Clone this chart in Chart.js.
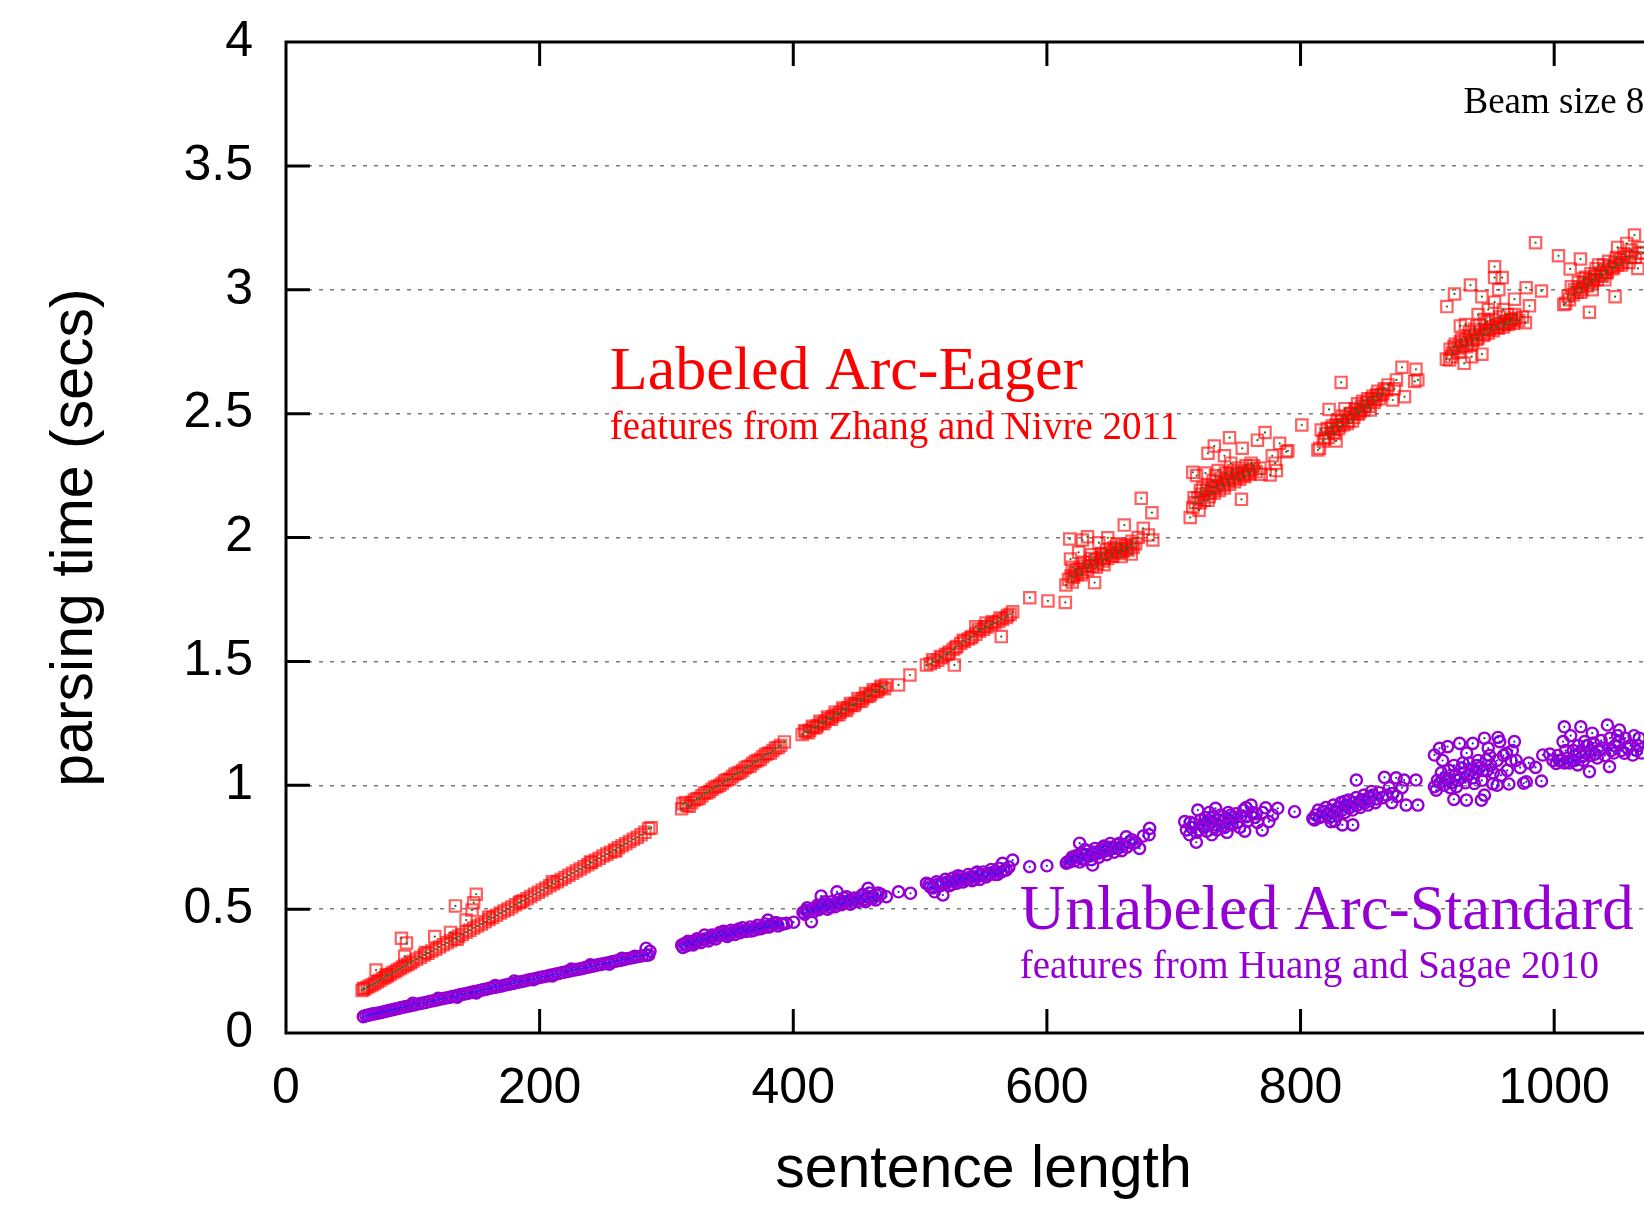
<!DOCTYPE html>
<html><head><meta charset="utf-8">
<script src="https://cdn.jsdelivr.net/npm/chart.js@4.4.1/dist/chart.umd.min.js"></script>
<style>
html,body{margin:0;padding:0;overflow:hidden;background:#fff;width:1644px;height:1206px}
#wrap{position:absolute;left:0;top:0;width:1720px;height:1206px}
</style>
</head><body><div id="wrap"><canvas id="c" width="1720" height="1206"></canvas></div>
<script>
// ---------- DATA: [sentence length, parsing time (secs)] ----------
const eagerBand1 = [[60,0.172],[61,0.18],[62,0.178],[64,0.185],[66,0.19],[68,0.195],[70,0.2],[71,0.254],[72,0.207],[74,0.212],[76,0.22],[78,0.224],[79,0.234],[80,0.23],[82,0.236],[84,0.243],[86,0.248],[88,0.254],[90,0.26],[91,0.382],[92,0.266],[93.6,0.31],[94,0.272],[95,0.363],[96,0.277],[98,0.283],[100,0.289],[103,0.298],[106,0.306],[109,0.315],[112,0.322],[115,0.331],[117.3,0.389],[118,0.338],[121,0.347],[124,0.356],[127,0.364],[129.7,0.406],[130,0.372],[133,0.381],[133.6,0.513],[135,0.378],[136,0.39],[139,0.398],[142,0.407],[142,0.456],[145,0.415],[146.7,0.496],[148,0.526],[148,0.424],[150,0.56],[151,0.432],[154,0.44],[157,0.449],[160,0.458],[163,0.466],[166,0.475],[169,0.484],[172,0.492],[175,0.5],[178,0.509],[181,0.518],[184,0.526],[185,0.53],[187,0.534],[190,0.542],[193,0.551],[196,0.56],[199,0.568],[202,0.577],[205,0.585],[208,0.594],[211,0.602],[214,0.611],[217,0.62],[220,0.628],[223,0.637],[226,0.645],[229,0.654],[232,0.662],[235,0.671],[238,0.679],[240,0.69],[241,0.688],[244,0.697],[247,0.705],[250,0.714],[253,0.722],[256,0.73],[259,0.739],[262,0.748],[265,0.756],[268,0.764],[271,0.773],[274,0.782],[277,0.79],[280,0.8],[283,0.81],[286,0.825],[288,0.828],[110,0.325],[160,0.468],[210,0.61],[260,0.735]];
const eagerBand2 = [[312,0.905],[313,0.925],[316,0.918],[320,0.93],[324,0.945],[328,0.958],[332,0.97],[336,0.984],[340,0.995],[344,1.008],[348,1.022],[352,1.035],[356,1.048],[360,1.06],[364,1.075],[368,1.088],[372,1.1],[376,1.115],[380,1.128],[384,1.14],[388,1.152],[393,1.175],[315,0.93],[318,0.915],[322,0.94],[326,0.948],[330,0.968],[334,0.975],[338,0.992],[342,1.0],[346,1.018],[350,1.025],[354,1.044],[358,1.052],[362,1.07],[366,1.078],[370,1.096],[374,1.105],[378,1.124],[382,1.13],[386,1.15],[390,1.16]];
const eagerBand3 = [[407,1.205],[410,1.215],[413,1.222],[416,1.232],[419,1.24],[422,1.25],[425,1.258],[428,1.268],[431,1.277],[434,1.286],[437,1.295],[440,1.305],[443,1.313],[446,1.322],[449,1.33],[452,1.34],[455,1.35],[458,1.358],[461,1.367],[464,1.377],[467,1.385],[470,1.395],[473,1.405],[483,1.405],[492,1.445],[409,1.22],[412,1.212],[415,1.238],[418,1.232],[421,1.258],[424,1.248],[427,1.275],[430,1.266],[433,1.295],[436,1.285],[439,1.312],[442,1.302],[445,1.33],[448,1.322],[451,1.35],[454,1.34],[457,1.37],[460,1.36],[463,1.385],[466,1.378],[469,1.4],[472,1.39]];
const eagerBand4 = [[505,1.485],[508,1.49],[511,1.497],[514,1.505],[517,1.515],[520,1.528],[523,1.538],[526,1.548],[527,1.485],[529,1.56],[532,1.572],[535,1.58],[538,1.59],[541,1.6],[544,1.61],[544,1.64],[547,1.622],[550,1.63],[552,1.655],[553,1.64],[556,1.648],[559,1.655],[562,1.662],[564,1.6],[565,1.67],[568,1.677],[571,1.69],[573,1.7],[510,1.507],[516,1.52],[522,1.53],[528,1.555],[534,1.585],[540,1.595],[546,1.63],[551,1.64],[557,1.66],[563,1.675],[569,1.685],[586.5,1.757],[600.8,1.744],[614.5,1.738]];
const eagerCloud5 = [[615,1.808],[617,1.83],[619,1.845],[620,1.82],[622,1.86],[624,1.85],[626,1.875],[628,1.86],[630,1.885],[632,1.87],[634,1.9],[636,1.885],[637.6,1.818],[638,1.91],[640,1.895],[642,1.92],[644,1.905],[646,1.93],[648,1.915],[650,1.94],[652,1.925],[654,1.95],[656,1.935],[658,1.955],[660,1.945],[662,1.965],[664,1.95],[666,1.97],[668,1.96],[670,1.975],[618,1.994],[632,2.003],[648,1.999],[641,1.979],[618.6,1.913],[666.5,1.933],[658.6,1.923],[674.4,2.158],[682.8,2.1],[661,2.05],[676,2.037],[683.5,1.99],[680,2.01],[672,2.0],[625,1.94],[628,1.99],[621,1.84],[623,1.87],[627,1.85],[629,1.9],[633,1.885],[635,1.915],[639,1.88],[643,1.935],[645,1.915],[647,1.95],[651,1.925],[653,1.96],[657,1.94],[659,1.97],[663,1.955],[667,1.985],[620,1.88],[635,1.93],[655,1.975],[645,1.89]];
const eagerCloud6 = [[713,2.081],[715,2.12],[717,2.14],[719,2.16],[720,2.11],[722,2.175],[724,2.15],[726,2.19],[728,2.165],[730,2.2],[732,2.18],[734,2.21],[736,2.19],[738,2.22],[740,2.2],[742,2.235],[744,2.215],[746,2.245],[748,2.225],[750,2.255],[752,2.235],[754,2.262],[756,2.245],[758,2.27],[760,2.255],[762,2.275],[765,2.265],[768,2.28],[732,2.369],[744,2.403],[727,2.34],[754,2.36],[766,2.393],[772,2.424],[783.5,2.38],[788.7,2.346],[777.7,2.33],[780,2.3],[781,2.27],[715,2.263],[753.4,2.154],[769,2.255],[776,2.252],[761,2.3],[718,2.25],[735,2.27],[745,2.3],[740,2.33],[725,2.26],[790,2.35],[716,2.16],[721,2.19],[723,2.2],[727,2.21],[729,2.18],[731,2.23],[733,2.2],[737,2.24],[739,2.21],[741,2.26],[743,2.23],[747,2.27],[749,2.24],[751,2.28],[755,2.25],[757,2.29],[759,2.26],[763,2.29],[733,2.25],[745,2.26],[721,2.14],[727,2.15],[801,2.454]];
const eagerCloud7 = [[813.7,2.353],[815,2.36],[816.3,2.434],[818,2.39],[820,2.42],[822,2.405],[824,2.44],[826,2.425],[828,2.39],[828,2.455],[830,2.44],[832,2.47],[834,2.455],[836,2.485],[838,2.47],[840,2.5],[842,2.485],[844,2.515],[846,2.5],[848,2.53],[850,2.515],[852,2.545],[854,2.53],[856,2.56],[858,2.545],[860,2.575],[862,2.56],[865,2.58],[832,2.626],[822.5,2.517],[880,2.687],[891,2.679],[892.5,2.636],[890,2.63],[875.6,2.636],[882,2.568],[872.7,2.555],[869,2.616],[868,2.595],[874,2.6],[845,2.54],[835,2.52],[819,2.4],[821,2.44],[825,2.45],[827,2.42],[829,2.47],[831,2.45],[833,2.49],[837,2.46],[839,2.5],[841,2.47],[843,2.52],[847,2.51],[849,2.55],[851,2.53],[853,2.56],[857,2.57],[859,2.555],[861,2.59],[863,2.575],[866,2.6],[845,2.5],[855,2.515]];
const eagerCloud8 = [[915,2.72],[917.5,2.716],[918,2.76],[920,2.745],[922,2.78],[924,2.765],[926,2.79],[928,2.775],[929,2.703],[930,2.8],[932,2.785],[934,2.81],[936,2.795],[938,2.82],[940,2.805],[942,2.83],[943,2.74],[944,2.815],[946,2.84],[948,2.825],[950,2.85],[952,2.835],[954,2.86],[956,2.845],[958,2.865],[960,2.85],[962,2.87],[964,2.86],[966,2.88],[968,2.865],[970,2.885],[972,2.875],[975,2.89],[977.3,2.867],[915.4,2.932],[921.4,2.983],[934,3.019],[953,3.093],[953,3.049],[959,3.049],[943,2.972],[953,2.95],[956.3,3.0],[968.7,2.962],[977.9,3.008],[990,2.995],[980.5,2.935],[926,2.854],[966,2.88],[940,2.9],[948,2.92],[919,2.73],[921,2.77],[925,2.75],[927,2.8],[931,2.77],[933,2.83],[935,2.78],[937,2.84],[939,2.8],[941,2.86],[945,2.82],[947,2.87],[949,2.84],[951,2.88],[955,2.85],[957,2.89],[961,2.86],[963,2.9],[965,2.87],[969,2.9],[930,2.86],[945,2.88],[960,2.92],[935,2.73]];
const eagerCloud9 = [[985.3,3.19],[1003.4,3.137],[1012.6,3.084],[1020.7,3.124],[1007.6,2.94],[1009,2.945],[1012,2.96],[1015,2.98],[1013.5,3.012],[1018,2.99],[1020,3.01],[1022,3.0],[1024,3.03],[1026,3.015],[1027.8,2.909],[1028,3.04],[1030,3.03],[1032,3.055],[1034,3.04],[1036,3.07],[1038,3.055],[1040,3.08],[1042,3.07],[1044,3.095],[1046,3.085],[1048,2.972],[1048,3.11],[1050,3.171],[1050,3.1],[1052,3.12],[1054,3.11],[1056.8,3.133],[1057.3,3.187],[1060,3.13],[1063.3,3.221],[1066,3.086],[1067,3.147],[1070,3.15],[1025,3.05],[1035,3.1],[1011,2.975],[1016,3.0],[1019,3.03],[1021,2.99],[1023,3.045],[1027,3.02],[1029,3.065],[1031,3.04],[1033,3.085],[1037,3.06],[1039,3.1],[1041,3.07],[1043,3.115],[1047,3.09],[1049,3.13],[1053,3.1],[1055,3.145],[1059,3.11],[1061,3.16],[1064,3.13],[1068,3.17],[1040,3.04],[1030,3.0]];

const standardBand1 = [[61,0.066],[63,0.07],[65,0.072],[67,0.075],[69,0.077],[71,0.079],[73,0.081],[75,0.083],[77,0.086],[79,0.088],[81,0.091],[83,0.093],[85,0.095],[87,0.098],[89,0.1],[91,0.103],[93,0.105],[95,0.107],[98,0.11],[101,0.113],[104,0.117],[107,0.12],[110,0.123],[113,0.127],[116,0.13],[119,0.133],[122,0.137],[125,0.14],[128,0.143],[131,0.147],[134,0.15],[137,0.154],[140,0.157],[143,0.16],[146,0.164],[149,0.167],[152,0.17],[155,0.174],[158,0.177],[161,0.181],[164,0.184],[167,0.187],[170,0.19],[173,0.194],[176,0.197],[179,0.2],[182,0.204],[185,0.207],[188,0.21],[191,0.214],[194,0.217],[197,0.22],[200,0.224],[203,0.227],[206,0.23],[209,0.234],[212,0.237],[215,0.24],[218,0.244],[221,0.247],[224,0.25],[227,0.254],[230,0.257],[233,0.26],[236,0.264],[239,0.267],[242,0.27],[245,0.274],[248,0.277],[251,0.28],[254,0.283],[257,0.287],[260,0.29],[263,0.293],[266,0.296],[269,0.3],[272,0.303],[275,0.306],[278,0.309],[281,0.312],[284,0.314],[286,0.315],[284,0.342],[287,0.33],[120,0.14],[150,0.162],[180,0.21],[210,0.23],[240,0.275],[265,0.302],[100,0.12],[135,0.145],[165,0.192],[195,0.215],[225,0.258],[255,0.278],[275,0.31]];
const standardBand2 = [[312,0.355],[314,0.36],[316,0.352],[318,0.365],[320,0.36],[322,0.37],[325,0.372],[328,0.378],[331,0.38],[334,0.385],[337,0.388],[340,0.393],[343,0.395],[346,0.4],[349,0.398],[352,0.406],[355,0.41],[358,0.405],[361,0.414],[364,0.418],[367,0.412],[370,0.425],[373,0.42],[376,0.43],[379,0.428],[380,0.456],[382,0.435],[385,0.44],[388,0.432],[391,0.44],[392,0.44],[394.6,0.443],[400.3,0.447],[330,0.395],[345,0.41],[360,0.425],[372,0.435],[385,0.445],[313,0.345],[317,0.37],[321,0.355],[324,0.38],[327,0.365],[333,0.372],[336,0.395],[339,0.38],[342,0.405],[348,0.39],[351,0.415],[354,0.398],[357,0.42],[363,0.41],[366,0.428],[369,0.415],[375,0.422],[378,0.44],[381,0.428],[387,0.445]];
const standardBand3 = [[407.7,0.487],[410,0.495],[412,0.49],[414.3,0.449],[415,0.5],[418,0.505],[420,0.498],[422,0.553],[423,0.51],[426,0.515],[429,0.508],[432,0.52],[434.5,0.57],[435,0.525],[438,0.518],[441,0.53],[444,0.535],[447,0.528],[450,0.54],[453,0.545],[456,0.538],[459,0.584],[459,0.548],[462,0.552],[465,0.537],[466,0.555],[469,0.56],[473.4,0.55],[483,0.57],[492.4,0.564],[425,0.53],[440,0.545],[455,0.56],[409,0.48],[411,0.505],[416,0.49],[419,0.515],[421,0.505],[424,0.52],[427,0.5],[430,0.53],[433,0.51],[436,0.54],[439,0.525],[442,0.55],[445,0.52],[448,0.545],[451,0.53],[454,0.555],[457,0.53],[460,0.565],[463,0.545],[467,0.565]];
const standardBand4 = [[505,0.604],[508,0.59],[511.4,0.57],[514,0.6],[518,0.557],[518,0.605],[522,0.61],[525,0.6],[528,0.615],[531,0.62],[534,0.61],[537,0.625],[540,0.63],[543,0.62],[546,0.635],[549,0.64],[552,0.63],[555,0.645],[558,0.65],[561,0.64],[565,0.685],[566,0.655],[568,0.658],[573,0.698],[530,0.635],[545,0.65],[507,0.6],[510,0.585],[513,0.61],[516,0.595],[520,0.62],[523,0.595],[526,0.625],[529,0.605],[532,0.63],[535,0.62],[538,0.64],[541,0.615],[544,0.645],[547,0.62],[550,0.65],[553,0.64],[556,0.66],[559,0.64],[562,0.665],[564,0.65],[570,0.67],[586.4,0.671],[600,0.675]];
const standardCloud5 = [[615.3,0.685],[616,0.69],[619,0.7],[622,0.695],[625,0.71],[625.8,0.766],[628,0.705],[631,0.72],[634,0.715],[636,0.678],[637,0.73],[640,0.725],[643,0.74],[646,0.735],[649,0.75],[652,0.745],[655,0.76],[657.3,0.766],[659,0.736],[662.6,0.792],[665,0.77],[668,0.765],[673,0.745],[680.6,0.8],[681,0.826],[630,0.74],[645,0.755],[618,0.69],[620,0.71],[623,0.715],[626,0.69],[627,0.725],[629,0.7],[632,0.735],[635,0.7],[638,0.745],[641,0.71],[644,0.75],[647,0.72],[650,0.765],[653,0.73],[656,0.745],[660,0.76],[663,0.75],[667,0.78],[670,0.77],[676,0.795]];
const standardCloud6 = [[708.7,0.853],[712.5,0.8],[714,0.83],[717.8,0.77],[719,0.9],[720,0.82],[723,0.84],[726,0.815],[729,0.85],[732,0.83],[733,0.907],[735,0.86],[738,0.835],[741,0.865],[744,0.845],[747,0.87],[750,0.85],[753,0.875],[756,0.815],[757,0.91],[757.2,0.873],[761,0.92],[764,0.87],[769.8,0.819],[772.5,0.909],[775,0.853],[782,0.907],[795.3,0.893],[725,0.87],[745,0.88],[765,0.885],[710,0.82],[713,0.85],[716,0.845],[718,0.81],[721,0.86],[724,0.83],[727,0.86],[730,0.8],[731,0.875],[734,0.82],[737,0.88],[740,0.83],[743,0.89],[746,0.84],[749,0.885],[752,0.83],[755,0.9],[758,0.855],[762,0.89],[766,0.85],[770,0.89],[778,0.88],[742,0.81],[728,0.89]];
const standardCloud7 = [[809.7,0.866],[812,0.88],[815,0.87],[818,0.895],[821,0.88],[824,0.853],[824,0.9],[827,0.89],[830,0.91],[833,0.84],[833,0.9],[836,0.92],[839,0.91],[841.2,0.84],[842,0.93],[844,1.021],[845,0.92],[848,0.94],[851,0.93],[854,0.95],[857,0.96],[860,0.945],[864.6,0.95],[866.2,1.032],[872,0.93],[872.8,0.967],[875.4,1.03],[880,0.99],[881.7,1.021],[883.3,0.92],[891,1.021],[892.5,0.92],[850,0.96],[835,0.935],[811,0.86],[814,0.9],[817,0.875],[820,0.91],[823,0.87],[826,0.92],[829,0.88],[832,0.93],[835,0.89],[838,0.94],[841,0.9],[844,0.95],[847,0.91],[850,0.94],[853,0.92],[856,0.975],[859,0.93],[862,0.97],[868,0.96],[876,0.955],[870,0.99],[827,0.855]];
const standardCloud8 = [[905.6,1.122],[909.6,1.149],[905.6,0.994],[907,0.98],[910,1.01],[913,1.0],[916,1.156],[916,1.025],[919,1.01],[920.9,0.943],[922,1.04],[923,0.994],[925.4,1.169],[926,1.03],[929,1.05],[930.8,0.94],[932,1.04],[935,1.06],[935.8,1.169],[937,1.007],[938,1.05],[941,1.07],[942.6,0.94],[944,1.06],[945,1.19],[945,0.96],[946.4,1.102],[950,1.08],[951.7,1.005],[955.7,1.193],[957,1.176],[962.3,1.129],[964.3,1.005],[966,1.1],[968.6,1.176],[973.2,1.071],[976,1.008],[978,1.014],[985.3,1.072],[990,1.017],[928,1.09],[940,1.1],[908,1.02],[911,1.05],[914,1.03],[917,1.06],[918,0.99],[921,1.08],[924,1.02],[927,1.07],[930,1.01],[933,1.09],[936,1.03],[939,1.08],[943,1.02],[947,1.06],[949,1.12],[952,1.05],[955,1.1],[958,1.04],[960,1.12],[963,1.06],[970,1.1],[912,1.1],[931,1.13],[948,1.15],[967,1.14],[980,1.09],[955,1.0]];
const standardCloud9 = [[991,1.122],[996.5,1.126],[1001.6,1.088],[1004,1.1],[1007,1.176],[1008,1.236],[1008,1.09],[1011,1.11],[1014,1.1],[1017,1.12],[1018.6,1.082],[1020,1.13],[1021,1.236],[1022,1.115],[1024,1.176],[1025,1.13],[1027.8,1.055],[1029,1.14],[1032,1.125],[1035.7,1.142],[1038,1.15],[1042,1.243],[1043.6,1.075],[1045,1.14],[1048,1.16],[1051,1.176],[1051.5,1.223],[1055.4,1.129],[1058,1.15],[1062,1.122],[1065,1.14],[1067,1.19],[999,1.1],[1003,1.12],[1006,1.1],[1009,1.14],[1012,1.09],[1015,1.14],[1016,1.1],[1019,1.16],[1023,1.1],[1026,1.16],[1028,1.12],[1031,1.17],[1034,1.11],[1037,1.18],[1040,1.12],[1044,1.19],[1047,1.13],[1050,1.2],[1053,1.14],[1056,1.19],[1060,1.16],[1063,1.2],[1066,1.16],[1069,1.13],[1013,1.2],[1030,1.21]];

const xTickLabels = ['0','200','400','600','800','1000'];
const yTickLabels = ['0','0.5','1','1.5','2','2.5','3','3.5','4'];
const annotationText = ['Labeled Arc-Eager','features from Zhang and Nivre 2011','Unlabeled Arc-Standard','features from Huang and Sagae 2010','Beam size 8'];
const annotationX = [255.3, 255.3, 578.5, 578.5, 928.5];
const annotationY = [2.60, 2.398, 0.42, 0.222, 3.713];

// ---------- STYLE ----------
const RED = '#ff0000', PURPLE = '#9400d3';
const annotationStyle = [
  {font:'62px "Liberation Serif"', color:RED},
  {font:'39px "Liberation Serif"', color:RED},
  {font:'63px "Liberation Serif"', color:PURPLE},
  {font:'39px "Liberation Serif"', color:PURPLE},
  {font:'37px "Liberation Serif"', color:'#000'}
];

const toPts = arr => arr.map(p => ({x:p[0], y:p[1]}));
const eagerData = toPts([].concat(eagerBand1,eagerBand2,eagerBand3,eagerBand4,eagerCloud5,eagerCloud6,eagerCloud7,eagerCloud8,eagerCloud9));
const standardData = toPts([].concat(standardBand1,standardBand2,standardBand3,standardBand4,standardCloud5,standardCloud6,standardCloud7,standardCloud8,standardCloud9));

const CW = 1720, PLOT_LEFT = 286, PLOT_TOP = 42, PLOT_BOTTOM = 1033, PLOT_RIGHT = 1681;
const TICK_LEN = 24;

const framePlugin = {
  id:'frame',
  afterDraw(chart){
    const {ctx, chartArea:a, scales:{x, y}} = chart;
    ctx.save();
    ctx.textBaseline = 'alphabetic';
    ctx.textAlign = 'left';
    annotationText.forEach((t,i)=>{
      ctx.font = annotationStyle[i].font;
      ctx.fillStyle = annotationStyle[i].color;
      ctx.fillText(t, x.getPixelForValue(annotationX[i]), y.getPixelForValue(annotationY[i]));
    });
    ctx.strokeStyle = '#000';
    ctx.lineWidth = 3;
    ctx.beginPath();
    x.ticks.forEach(t=>{
      if (t.value <= x.min || t.value >= x.max) return;
      const px = x.getPixelForValue(t.value);
      ctx.moveTo(px, a.bottom); ctx.lineTo(px, a.bottom - TICK_LEN);
      ctx.moveTo(px, a.top); ctx.lineTo(px, a.top + TICK_LEN);
    });
    y.ticks.forEach(t=>{
      if (t.value <= y.min || t.value >= y.max) return;
      const py = y.getPixelForValue(t.value);
      ctx.moveTo(a.left, py); ctx.lineTo(a.left + TICK_LEN, py);
      ctx.moveTo(a.right, py); ctx.lineTo(a.right - TICK_LEN, py);
    });
    ctx.stroke();
    ctx.strokeRect(a.left, a.top, a.right - a.left, a.bottom - a.top);
    ctx.restore();
  }
};

new Chart(document.getElementById('c'), {
  type:'scatter',
  data:{datasets:[
    {label:'Labeled Arc-Eager', data:eagerData, pointStyle:'rect', pointRadius:8, borderWidth:2.2,
     borderColor:'rgba(255,0,0,0.62)', backgroundColor:'rgba(0,0,0,0)', order:2},
    {label:'eager centre', data:eagerData, pointStyle:'circle', pointRadius:1.1, borderWidth:0,
     backgroundColor:'#1f6b1f', borderColor:'#1f6b1f', order:0},
    {label:'Unlabeled Arc-Standard', data:standardData, pointStyle:'circle', pointRadius:5.6, borderWidth:2.4,
     borderColor:PURPLE, backgroundColor:'rgba(0,0,0,0)', order:1},
    {label:'standard centre', data:standardData, pointStyle:'circle', pointRadius:1.1, borderWidth:0,
     backgroundColor:'#1a1aff', borderColor:'#1a1aff', order:0}
  ]},
  options:{
    responsive:false, animation:false, events:[],
    layout:{padding:{left:0, top:PLOT_TOP, right:CW - PLOT_RIGHT, bottom:0}},
    plugins:{legend:{display:false}, tooltip:{enabled:false}},
    scales:{
      x:{type:'linear', min:0, max:1100,
        afterFit(s){ s.height = 1206 - PLOT_BOTTOM; },
        grid:{display:false, drawTicks:false},
        border:{display:false},
        ticks:{stepSize:200, includeBounds:false, padding:26, color:'#000',
          font:{family:'"Liberation Sans"', size:50},
          callback:(v)=> xTickLabels[Math.round(v/200)] ?? ''},
        title:{display:true, text:'sentence length', color:'#000',
          font:{family:'"Liberation Sans"', size:59}, padding:{top:11, bottom:0}}
      },
      y:{type:'linear', min:0, max:4,
        afterFit(s){ s.width = PLOT_LEFT; s.paddingTop = 0; s.paddingBottom = 0; },
        grid:{drawTicks:false, lineWidth:1.5,
          color:(c)=> (c.tick && (c.tick.value === 0 || c.tick.value === 4)) ? 'rgba(0,0,0,0)' : '#7a7a7a'},
        border:{display:false, dash:[4,7]},
        ticks:{stepSize:0.5, padding:33, color:'#000',
          font:{family:'"Liberation Sans"', size:50},
          callback:(v)=> yTickLabels[Math.round(v*2)] ?? ''},
        title:{display:true, text:'parsing time (secs)', color:'#000',
          font:{family:'"Liberation Sans"', size:59}, padding:{top:40, bottom:0}}
      }
    }
  },
  plugins:[framePlugin]
});
</script></body></html>
